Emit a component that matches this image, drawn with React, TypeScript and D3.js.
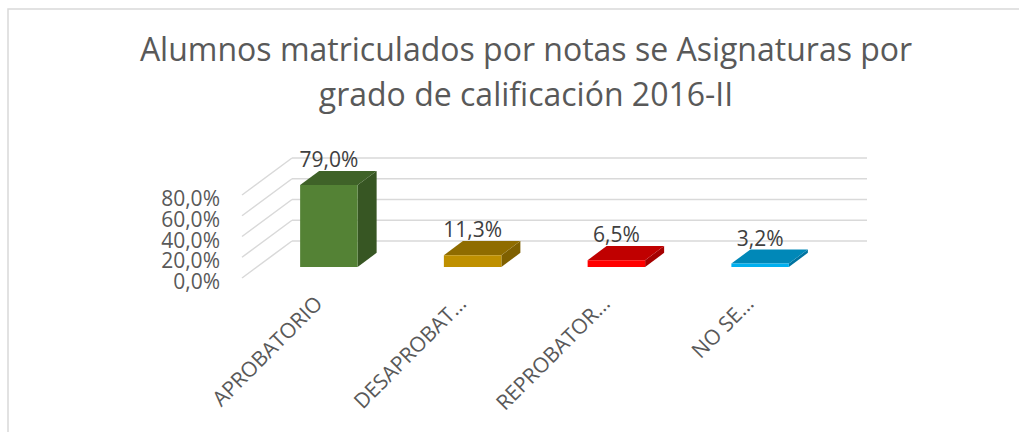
import React from 'react';
import * as d3 from 'd3';

const categories = ['APROBATORIO', 'DESAPROBAT…', 'REPROBATOR…', 'NO SE…'];
const values = [0.79, 0.113, 0.065, 0.032];
const valueLabels = ['79,0%', '11,3%', '6,5%', '3,2%'];
const ticks = [0, 0.2, 0.4, 0.6, 0.8];
const tickLabels = ['0,0%', '20,0%', '40,0%', '60,0%', '80,0%'];
const title = ['Alumnos matriculados por notas se Asignaturas por', 'grado de calificación 2016-II'];

// front, top, side colours for each bar
const palette = [
  ['#548235', '#3f6228', '#375623'],
  ['#bf9000', '#8f6c00', '#7f6000'],
  ['#ff0000', '#c00000', '#a50000'],
  ['#00b0f0', '#0088b8', '#0073a0'],
];

const W = 1019, H = 432;
const depthX = 50, depthY = -37;   // full depth of the floor
const barFront = 0.3, barBack = 0.68;
const font = "'Open Sans', sans-serif";

export default function App() {
  const x = d3.scaleBand().domain(categories).range([242, 817]);
  const y = d3.scaleLinear().domain([0, 0.8]).range([278, 195]);
  const bw = x.bandwidth() * 0.4;

  const pt = (px: number, py: number, d: number) => [px + depthX * d, py + depthY * d];
  const poly = (pts: number[][]) => pts.map(p => p.join(',')).join(' ');

  return (
    <div style={{ position: 'absolute', left: 0, top: 0 }}>
      <svg width={W} height={H} style={{ display: 'block', background: '#fff' }}>
        <rect x={8} y={9} width={W + 50} height={H + 50} fill="#fff" stroke="#d9d9d9" strokeWidth={1.5} />

        <g fontFamily={font} fill="#595959" textAnchor="middle" fontSize={32}>
          {title.map((t, i) => (
            <text key={i} x={526} y={61 + i * 45}>{t}</text>
          ))}
        </g>

        {/* walls */}
        <g stroke="#d9d9d9" strokeWidth={1.5} fill="none">
          {ticks.map(t => {
            const [bx, by] = pt(x.range()[0], y(t), 1);
            const [ex] = pt(x.range()[1], y(t), 1);
            return (
              <g key={t}>
                <line x1={x.range()[0]} y1={y(t)} x2={bx} y2={by} />
                <line x1={bx} y1={by} x2={ex} y2={by} />
              </g>
            );
          })}
        </g>

        <g fontFamily={font} fill="#595959" fontSize={21} textAnchor="end">
          {ticks.map((t, i) => (
            <text key={t} x={220} y={y(t) + 3} dominantBaseline="central">{tickLabels[i]}</text>
          ))}
        </g>

        {categories.map((c, i) => {
          const cx = (x(c) as number) + x.bandwidth() / 2;
          const x0 = cx - bw / 2, x1 = cx + bw / 2;
          const y0 = y(0), y1 = y(values[i]);
          const [fc, tc, sc] = palette[i];
          const front = [pt(x0, y0, barFront), pt(x1, y0, barFront), pt(x1, y1, barFront), pt(x0, y1, barFront)];
          const top = [pt(x0, y1, barFront), pt(x1, y1, barFront), pt(x1, y1, barBack), pt(x0, y1, barBack)];
          const side = [pt(x1, y0, barFront), pt(x1, y0, barBack), pt(x1, y1, barBack), pt(x1, y1, barFront)];
          const [, ly] = pt(cx, y1, barBack);
          return (
            <g key={c}>
              <polygon points={poly(side)} fill={sc} />
              <polygon points={poly(top)} fill={tc} />
              <polygon points={poly(front)} fill={fc} />
              <text x={pt(cx, y1, barFront)[0]} y={ly - 4} fontFamily={font} fontSize={21}
                fill="#404040" textAnchor="middle">{valueLabels[i]}</text>
              <text transform={`translate(${cx + 10},${305}) rotate(-45)`} fontFamily={font}
                fontSize={21} fill="#595959" textAnchor="end">{c}</text>
            </g>
          );
        })}
      </svg>
    </div>
  );
}
